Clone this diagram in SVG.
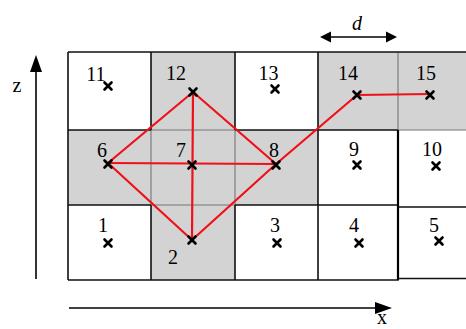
<svg xmlns="http://www.w3.org/2000/svg" width="466" height="329" viewBox="0 0 466 329">
  <defs>
    <style>
      .shade { fill: #d3d3d3; stroke: none; }
      .blk { stroke: #111; stroke-width: 1.6; fill: none; }
      .gry { stroke: #777; stroke-width: 1.1; fill: none; }
      .lbl { font-family: "Liberation Serif", "Times New Roman", serif; font-size: 20px; fill: #000; text-anchor: middle; }
      .axis { stroke: #000; stroke-width: 1.6; fill: none; }
      .red { stroke: #f0101a; stroke-width: 2.2; fill: none; stroke-linecap: round; stroke-linejoin: round; }
      .mk { stroke: #000; stroke-width: 2.6; stroke-linecap: round; }
    </style>
    <symbol id="cross" overflow="visible">
      <path class="mk" d="M-3.5,-3.5 L3.5,3.5 M-3.5,3.5 L3.5,-3.5"/>
    </symbol>
  </defs>
  <rect width="466" height="329" fill="#fff"/>

  <g id="cells">
    <rect class="shade" x="151" y="52" width="84" height="78"/>
    <rect class="shade" x="318" y="52" width="148" height="78"/>
    <rect class="shade" x="68" y="130" width="250" height="75"/>
    <rect class="shade" x="151" y="205" width="84" height="75"/>
  </g>

  <g id="grid">
    <path class="gry" d="M151,130 V205 M235,130 V205 M151,130 H235 M151,205 H235 M398,52 V130 M398,130 H466"/>
    <path class="blk" d="M68,52 H466 M68,52 V280 M68,280 H398 V130 M68,130 H151 M235,130 H398 M68,205 H151 M235,205 H398 M398,207 H466 M398,278.5 H466 M151,52 V130 M235,52 V130 M318,52 V280 M151,205 V280 M235,205 V280"/>
    <path d="M398,130 V280" stroke="#000" stroke-width="2.2"/>
  </g>

  <g id="axes">
    <line class="axis" x1="36" y1="279" x2="36" y2="68"/>
    <polygon points="36,55 30,72 42,72" fill="#000"/>
    <text class="lbl" x="17" y="92">z</text>
    <line class="axis" x1="69" y1="308" x2="378" y2="308"/>
    <polygon points="392,308 375,302 375,314" fill="#000"/>
    <text class="lbl" x="382" y="323.5">x</text>
    <line class="axis" x1="328" y1="37" x2="389" y2="37"/>
    <polygon points="320,37 331,31.5 331,42.5" fill="#000"/>
    <polygon points="397,37 386,31.5 386,42.5" fill="#000"/>
    <text class="lbl" x="357" y="30" font-style="italic">d</text>
  </g>

  <g id="connectors">
    <path class="red" d="M108,163 L193,92 L276,164"/>
    <path class="red" d="M193,92 L192,240"/>
    <path class="red" d="M108,163 L276,164"/>
    <path class="red" d="M108,163 L192,240 L276,164 L357,95 L430,94"/>
  </g>

  <g id="node-11"><use href="#cross" x="108" y="86"/><text class="lbl" x="96" y="81">11</text></g>
  <g id="node-12"><use href="#cross" x="193" y="92"/><text class="lbl" x="176" y="80">12</text></g>
  <g id="node-13"><use href="#cross" x="275" y="89"/><text class="lbl" x="268.5" y="80">13</text></g>
  <g id="node-14"><use href="#cross" x="357" y="95"/><text class="lbl" x="348" y="80">14</text></g>
  <g id="node-15"><use href="#cross" x="430" y="95"/><text class="lbl" x="426" y="80">15</text></g>
  <g id="node-6"><use href="#cross" x="108" y="164"/><text class="lbl" x="102" y="157">6</text></g>
  <g id="node-7"><use href="#cross" x="192" y="165"/><text class="lbl" x="181" y="157">7</text></g>
  <g id="node-8"><use href="#cross" x="276" y="165"/><text class="lbl" x="274" y="157">8</text></g>
  <g id="node-9"><use href="#cross" x="357" y="165"/><text class="lbl" x="354" y="156">9</text></g>
  <g id="node-10"><use href="#cross" x="436" y="166"/><text class="lbl" x="432" y="156">10</text></g>
  <g id="node-1"><use href="#cross" x="108" y="243"/><text class="lbl" x="103" y="232">1</text></g>
  <g id="node-2"><use href="#cross" x="192" y="240"/><text class="lbl" x="173" y="264">2</text></g>
  <g id="node-3"><use href="#cross" x="277" y="243"/><text class="lbl" x="275" y="232">3</text></g>
  <g id="node-4"><use href="#cross" x="359" y="243"/><text class="lbl" x="354" y="232">4</text></g>
  <g id="node-5"><use href="#cross" x="439" y="241"/><text class="lbl" x="434" y="232">5</text></g>
</svg>
